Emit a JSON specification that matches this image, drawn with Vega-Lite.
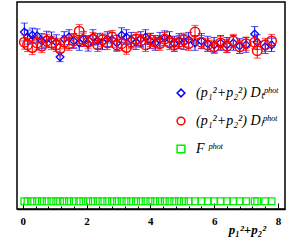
{
  "$schema": "https://vega.github.io/schema/vega-lite/v6.json",
  "width": 268,
  "height": 207,
  "autosize": "none",
  "padding": {"left": 17, "top": 2, "right": 7, "bottom": 31},
  "background": "white",
  "config": {
    "view": {"stroke": "black", "strokeWidth": 1.5},
    "axis": {"grid": false, "domainColor": "black", "domainWidth": 1.5, "tickColor": "black", "tickWidth": 1,
             "labelFont": "Liberation Serif", "labelFontWeight": "bold", "labelFontSize": 11, "labelColor": "black",
             "labelOverlap": false, "labelBound": false, "labelFlush": false}
  },
  "data": {"values": [
    {"x":0.05,"t":0.438,"tl":0.415,"th":0.461,"l":0.412,"ll":0.394,"lh":0.430,"f":0.004},
    {"x":0.15,"t":0.425,"tl":0.407,"th":0.443,"l":0.405,"ll":0.388,"lh":0.422,"f":0.004},
    {"x":0.3,"t":0.430,"tl":0.412,"th":0.448,"l":0.398,"ll":0.380,"lh":0.416,"f":0.004},
    {"x":0.45,"t":0.428,"tl":0.410,"th":0.446,"l":0.410,"ll":0.392,"lh":0.428,"f":0.004},
    {"x":0.6,"t":0.415,"tl":0.396,"th":0.434,"l":0.402,"ll":0.385,"lh":0.419,"f":0.004},
    {"x":0.75,"t":0.420,"tl":0.400,"th":0.440,"l":0.415,"ll":0.398,"lh":0.432,"f":0.004},
    {"x":0.9,"t":0.418,"tl":0.398,"th":0.438,"l":0.410,"ll":0.393,"lh":0.427,"f":0.004},
    {"x":1.05,"t":0.412,"tl":0.393,"th":0.431,"l":0.405,"ll":0.388,"lh":0.422,"f":0.004},
    {"x":1.17,"t":0.374,"tl":0.362,"th":0.386,"l":0.395,"ll":0.377,"lh":0.413,"f":0.004},
    {"x":1.3,"t":0.420,"tl":0.401,"th":0.439,"l":0.412,"ll":0.395,"lh":0.429,"f":0.004},
    {"x":1.45,"t":0.425,"tl":0.406,"th":0.444,"l":0.408,"ll":0.391,"lh":0.425,"f":0.004},
    {"x":1.6,"t":0.415,"tl":0.396,"th":0.434,"l":0.415,"ll":0.398,"lh":0.432,"f":0.004},
    {"x":1.77,"t":0.410,"tl":0.391,"th":0.429,"l":0.440,"ll":0.423,"lh":0.457,"f":0.004},
    {"x":1.9,"t":0.420,"tl":0.401,"th":0.439,"l":0.418,"ll":0.401,"lh":0.435,"f":0.004},
    {"x":2.05,"t":0.408,"tl":0.389,"th":0.427,"l":0.412,"ll":0.395,"lh":0.429,"f":0.004},
    {"x":2.2,"t":0.425,"tl":0.406,"th":0.444,"l":0.420,"ll":0.403,"lh":0.437,"f":0.004},
    {"x":2.35,"t":0.415,"tl":0.396,"th":0.434,"l":0.405,"ll":0.388,"lh":0.422,"f":0.004},
    {"x":2.5,"t":0.412,"tl":0.393,"th":0.431,"l":0.418,"ll":0.401,"lh":0.435,"f":0.004},
    {"x":2.65,"t":0.420,"tl":0.401,"th":0.439,"l":0.410,"ll":0.393,"lh":0.427,"f":0.004},
    {"x":2.8,"t":0.418,"tl":0.399,"th":0.437,"l":0.425,"ll":0.408,"lh":0.442,"f":0.004},
    {"x":2.95,"t":0.410,"tl":0.391,"th":0.429,"l":0.405,"ll":0.388,"lh":0.422,"f":0.004},
    {"x":3.1,"t":0.430,"tl":0.411,"th":0.449,"l":0.408,"ll":0.391,"lh":0.425,"f":0.004},
    {"x":3.25,"t":0.425,"tl":0.406,"th":0.444,"l":0.398,"ll":0.381,"lh":0.415,"f":0.004},
    {"x":3.4,"t":0.418,"tl":0.399,"th":0.437,"l":0.412,"ll":0.395,"lh":0.429,"f":0.004},
    {"x":3.55,"t":0.412,"tl":0.393,"th":0.431,"l":0.420,"ll":0.403,"lh":0.437,"f":0.004},
    {"x":3.7,"t":0.420,"tl":0.401,"th":0.439,"l":0.415,"ll":0.398,"lh":0.432,"f":0.004},
    {"x":3.85,"t":0.425,"tl":0.406,"th":0.444,"l":0.405,"ll":0.388,"lh":0.422,"f":0.004},
    {"x":4.0,"t":0.415,"tl":0.396,"th":0.434,"l":0.418,"ll":0.401,"lh":0.435,"f":0.004},
    {"x":4.15,"t":0.410,"tl":0.391,"th":0.429,"l":0.412,"ll":0.395,"lh":0.429,"f":0.004},
    {"x":4.3,"t":0.418,"tl":0.399,"th":0.437,"l":0.408,"ll":0.391,"lh":0.425,"f":0.004},
    {"x":4.45,"t":0.422,"tl":0.403,"th":0.441,"l":0.420,"ll":0.403,"lh":0.437,"f":0.004},
    {"x":4.6,"t":0.420,"tl":0.401,"th":0.439,"l":0.410,"ll":0.393,"lh":0.427,"f":0.004},
    {"x":4.75,"t":0.408,"tl":0.389,"th":0.427,"l":0.405,"ll":0.388,"lh":0.422,"f":0.004},
    {"x":4.9,"t":0.415,"tl":0.396,"th":0.434,"l":0.412,"ll":0.395,"lh":0.429,"f":0.004},
    {"x":5.05,"t":0.412,"tl":0.393,"th":0.431,"l":0.418,"ll":0.401,"lh":0.435,"f":0.004},
    {"x":5.2,"t":0.418,"tl":0.399,"th":0.437,"l":0.408,"ll":0.391,"lh":0.425,"f":0.004},
    {"x":5.4,"t":0.410,"tl":0.391,"th":0.429,"l":0.438,"ll":0.421,"lh":0.455,"f":0.004},
    {"x":5.6,"t":0.415,"tl":0.396,"th":0.434,"l":0.412,"ll":0.395,"lh":0.429,"f":0.004},
    {"x":5.8,"t":0.408,"tl":0.389,"th":0.427,"l":0.405,"ll":0.388,"lh":0.422,"f":0.004},
    {"x":6.0,"t":0.405,"tl":0.386,"th":0.424,"l":0.400,"ll":0.383,"lh":0.417,"f":0.004},
    {"x":6.2,"t":0.410,"tl":0.391,"th":0.429,"l":0.410,"ll":0.393,"lh":0.427,"f":0.004},
    {"x":6.4,"t":0.405,"tl":0.386,"th":0.424,"l":0.402,"ll":0.385,"lh":0.419,"f":0.004},
    {"x":6.6,"t":0.410,"tl":0.391,"th":0.429,"l":0.415,"ll":0.398,"lh":0.432,"f":0.004},
    {"x":6.8,"t":0.402,"tl":0.383,"th":0.421,"l":0.400,"ll":0.383,"lh":0.417,"f":0.004},
    {"x":7.0,"t":0.405,"tl":0.386,"th":0.424,"l":0.408,"ll":0.391,"lh":0.425,"f":0.004},
    {"x":7.27,"t":0.433,"tl":0.414,"th":0.452,"l":0.412,"ll":0.395,"lh":0.429,"f":0.004},
    {"x":7.35,"t":0.412,"tl":0.393,"th":0.431,"l":0.390,"ll":0.371,"lh":0.409,"f":0.004},
    {"x":7.6,"t":0.400,"tl":0.383,"th":0.417,"l":0.405,"ll":0.388,"lh":0.422,"f":0.004},
    {"x":7.8,"t":0.405,"tl":0.388,"th":0.422,"l":0.415,"ll":0.398,"lh":0.432,"f":0.004}
  ]},
  "encoding": {
    "x": {"field": "x", "type": "quantitative",
          "scale": {"domain": [-0.18, 8.22], "nice": false, "zero": false},
          "axis": {"values": [0,0.4,0.8,1.2,1.6,2,2.4,2.8,3.2,3.6,4,4.4,4.8,5.2,5.6,6,6.4,6.8,7.2,7.6,8],
                   "format": "~g", "labelOverlap": false,
                   "labelExpr": "length(datum.label) == 1 ? datum.label : ''",
                   "tickSize": {"condition": {"test": "abs(datum.value - round(datum.value/2)*2) < 0.001", "value": -6}, "value": -3},
                   "labelPadding": 12,
                   "title": "p₁²+p₂²", "titleFont": "Liberation Serif", "titleFontStyle": "italic", "titleFontWeight": "bold",
                   "titleFontSize": 13, "titleX": 230, "titleY": 24, "titleAlign": "center", "titleBaseline": "alphabetic"}}
  },
  "layer": [
    {"mark": {"type": "rule", "color": "#0000ff", "strokeWidth": 1},
     "encoding": {"y": {"field": "tl", "type": "quantitative",
        "scale": {"domain": [-0.016, 0.515], "nice": false, "zero": false},
        "axis": {"values": [0, 0.1, 0.2, 0.3, 0.4, 0.5],
                 "format": "~g", "labelOverlap": false,
                 "tickSize": -6,
                 "labelPadding": 9, "title": null}},
      "y2": {"field": "th"}}},
    {"mark": {"type": "tick", "orient": "horizontal", "color": "#0000ff", "size": 7, "thickness": 1},
     "encoding": {"y": {"field": "tl", "type": "quantitative", "axis": null}}},
    {"mark": {"type": "tick", "orient": "horizontal", "color": "#0000ff", "size": 7, "thickness": 1},
     "encoding": {"y": {"field": "th", "type": "quantitative", "axis": null}}},
    {"mark": {"type": "point", "filled": false, "size": 60, "strokeWidth": 1.3, "opacity": 1},
     "encoding": {"y": {"field": "t", "type": "quantitative", "axis": null},
                  "color": {"datum": "t", "type": "nominal",
                            "scale": {"domain": ["t", "l", "f"], "range": ["#0000ff", "#ff0000", "#00ee00"]},
                            "legend": {"orient": "none", "legendX": 157, "legendY": 84, "title": null, "padding": 0,
                                       "rowPadding": 14, "labelOffset": 8, "symbolSize": 60, "symbolStrokeWidth": 1.5,
                                       "labelFont": "Liberation Serif", "labelFontStyle": "italic", "labelFontSize": 14,
                                       "labelColor": "black", "labelLimit": 200,
                                       "labelExpr": "datum.value == 't' ? '(p₁²+p₂²) Dₜᵖʰᵒᵗ' : datum.value == 'l' ? '(p₁²+p₂²) Dₗᵖʰᵒᵗ' : 'F ᵖʰᵒᵗ'"}},
                  "shape": {"datum": "t", "type": "nominal",
                            "scale": {"domain": ["t", "l", "f"], "range": ["diamond", "circle", "square"]}}}},
    {"mark": {"type": "rule", "color": "#ff0000", "strokeWidth": 1},
     "encoding": {"y": {"field": "ll", "type": "quantitative", "axis": null}, "y2": {"field": "lh"}}},
    {"mark": {"type": "tick", "orient": "horizontal", "color": "#ff0000", "size": 7, "thickness": 1},
     "encoding": {"y": {"field": "ll", "type": "quantitative", "axis": null}}},
    {"mark": {"type": "tick", "orient": "horizontal", "color": "#ff0000", "size": 7, "thickness": 1},
     "encoding": {"y": {"field": "lh", "type": "quantitative", "axis": null}}},
    {"mark": {"type": "point", "filled": false, "size": 90, "strokeWidth": 1.5, "opacity": 1},
     "encoding": {"y": {"field": "l", "type": "quantitative", "axis": null},
                  "color": {"datum": "l", "type": "nominal"}, "shape": {"datum": "l", "type": "nominal"}}},
    {"mark": {"type": "point", "filled": false, "size": 45, "strokeWidth": 1.3, "opacity": 1},
     "encoding": {"y": {"field": "f", "type": "quantitative", "axis": null},
                  "color": {"datum": "f", "type": "nominal"}, "shape": {"datum": "f", "type": "nominal"}}}
  ],
  "resolve": {"scale": {"color": "shared", "shape": "shared"}}
}
